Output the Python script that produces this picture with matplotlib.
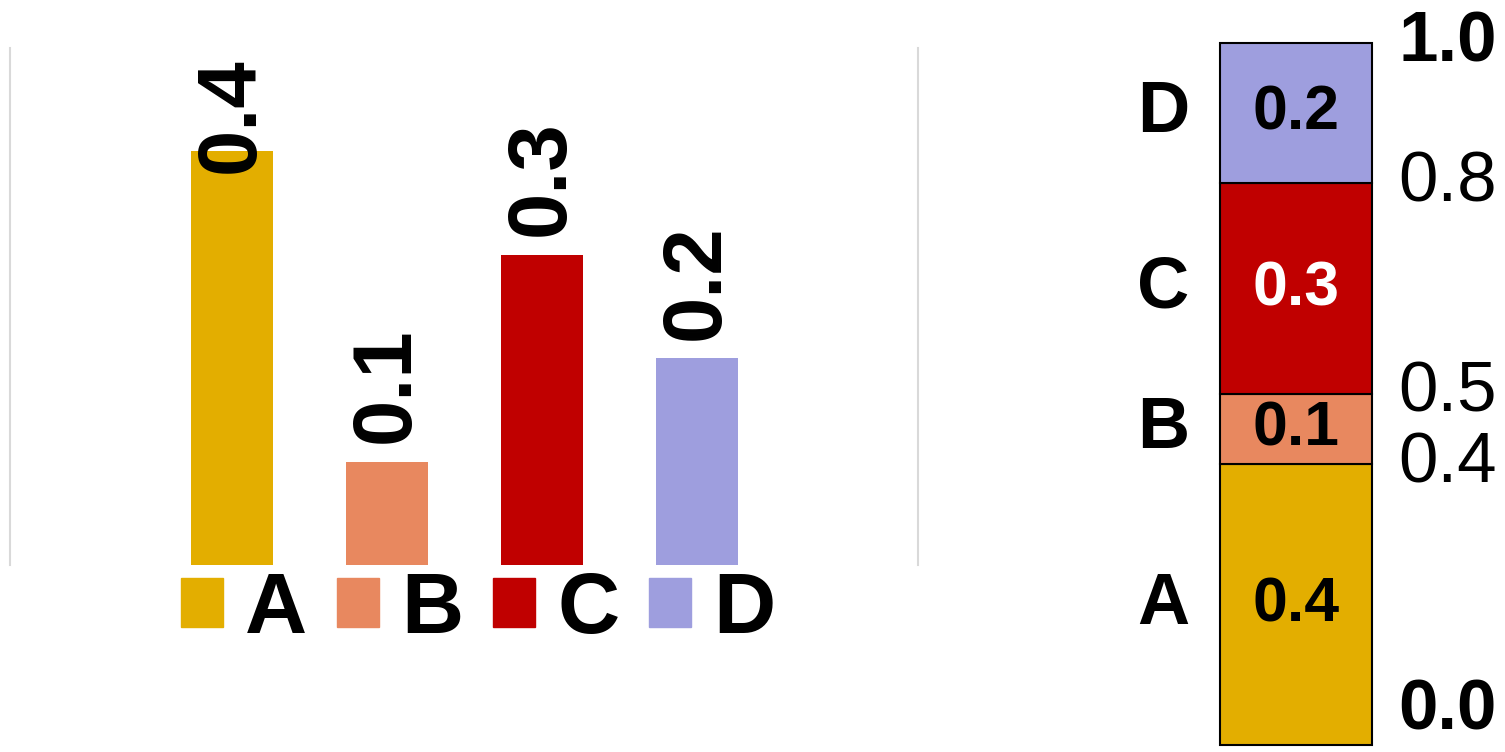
import numpy as np
import matplotlib
matplotlib.use("Agg")
from matplotlib import pyplot as plt
from matplotlib.patches import Patch

plt.rcParams['font.family'] = ['Liberation Sans', 'DejaVu Sans']

# shares of the four parts
categories = ["A", "B", "C", "D"]
values = [0.4, 0.1, 0.3, 0.2]
colors = ["#E3AE00", "#E8885F", "#C00000", "#9E9EDE"]
inner_text = ["black", "black", "white", "black"]

W, H = 1505, 752
fig = plt.figure(figsize=(W / 100, H / 100), dpi=100)

# left: plain bars with rotated value labels
ax = fig.add_axes([10 / W, 187 / H, 908 / W, 517 / H])
x = np.arange(len(categories))
ax.bar(x, values, width=0.53, color=colors)
ax.set_xlim(-1.432, 4.426)
ax.set_ylim(0, 0.5)
ax.set_xticks([])
ax.set_yticks([])
for side in ["top", "bottom"]:
    ax.spines[side].set_visible(False)
for side in ["left", "right"]:
    ax.spines[side].set_color("#D9D9D9")
    ax.spines[side].set_linewidth(1.5)

label_len = 0.113   # rough height of a rotated label in data units
top = ax.get_ylim()[1]
for xi, v in zip(x, values):
    y = v + 0.018
    if y + label_len > top:
        # no room above the bar: pin the label to the top of the plot
        ax.text(xi, top - 0.009, f"{v}", rotation=90, ha="center", va="top",
                fontsize=60, fontweight="bold")
    else:
        ax.text(xi, y, f"{v}", rotation=90, ha="center", va="bottom",
                fontsize=60, fontweight="bold")

handles = [Patch(color=c) for c in colors]
fig.legend(handles, categories, loc="center", bbox_to_anchor=(478 / W, 1 - 611 / H),
           ncol=4, frameon=False, prop={"weight": "bold", "size": 62},
           handlelength=0.49, handleheight=0.49, handletextpad=0.26,
           columnspacing=0.34)

# right: the same parts stacked into one column
ax2 = fig.add_axes([1220 / W, 7 / H, 152 / W, 702 / H])
bottoms = np.concatenate([[0], np.cumsum(values)[:-1]])
for cat, v, b, c, tc in zip(categories, values, bottoms, colors, inner_text):
    ax2.bar(0, v, bottom=b, width=1, align="edge", color=c,
            edgecolor="black", linewidth=1.5, clip_on=False)
    ax2.text(0.5, b + v / 2, f"{v}", ha="center", va="center",
             fontsize=45, fontweight="bold", color=tc)
    ax2.text(-0.375, b + v / 2, cat, ha="center", va="center",
             fontsize=52, fontweight="bold")
ax2.set_xlim(0, 1)
ax2.set_ylim(0, 1)
ax2.axis("off")

edges = np.concatenate([[0], np.cumsum(values)])
for i, e in enumerate(edges):
    end = i == 0 or i == len(edges) - 1
    ax2.text(1.82, e, f"{e:.1f}", ha="right",
             va="bottom" if i == 0 else "center",
             fontsize=51,
             fontweight="bold" if end else "normal")

fig.savefig("out.png", dpi=100)
